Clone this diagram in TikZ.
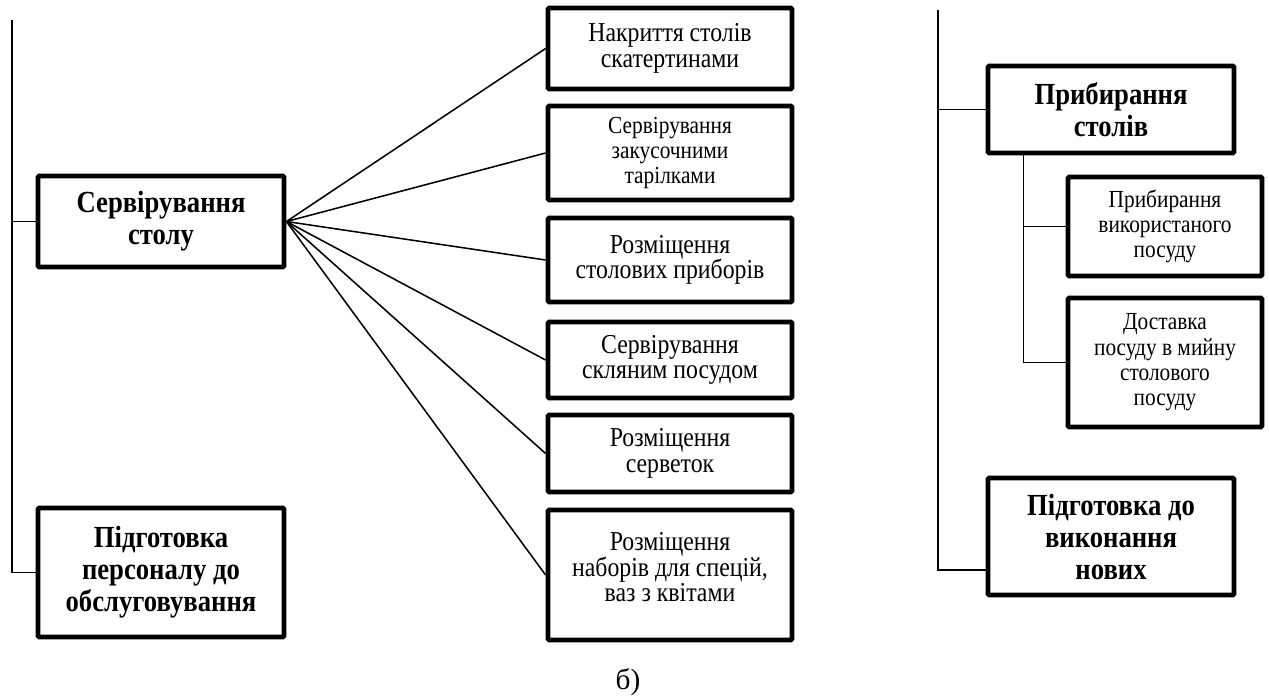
\documentclass[tikz,border=0pt]{standalone}
\usepackage{fontspec}
\setmainfont{Liberation Serif}[FakeStretch=0.87]
\newfontfamily\capfont{Liberation Serif}
\begin{document}
\begin{tikzpicture}[x=0.75pt,y=-0.75pt,
  box/.style={draw, line width=3.6pt, rounded corners=1pt, align=center, inner sep=2pt},
  wh/.style 2 args={minimum width=#1*0.75pt, minimum height=#2*0.75pt},
  head/.style={box, font=\fontsize{23}{24}\selectfont\bfseries},
  item/.style={box, font=\fontsize{20.5}{19}\selectfont},
  small/.style={box, font=\fontsize{18.4}{19}\selectfont},
  link/.style={line width=1.15pt}]
\useasboundingbox (0,0) rectangle (1269,697);

% left column
\node[head, wh={246}{91}]  (serv)  at (161,221.5) {Сервірування\\столу};
\node[head, wh={246}{129}] (staff) at (161,572.5) {Підготовка\\персоналу до\\обслуговування};

% table setting steps
\node[item,  wh={244}{81}]  (m1) at (670,48.5)  {Накриття столів\\скатертинами};
\node[small, wh={244}{94}]  (m2) at (670,153)   {Сервірування\\закусочними\\тарілками};
\node[item,  wh={244}{84}]  (m3) at (670,260)   {Розміщення\\столових приборів};
\node[item,  wh={244}{76}]  (m4) at (670,360)   {Сервірування\\скляним посудом};
\node[item,  wh={244}{77}]  (m5) at (670,453.5) {Розміщення\\серветок};
\node[item,  wh={244}{130}] (m6) at (670,575)   {Розміщення\\наборів для спецій,\\ваз з квітами\rule[-12pt]{0pt}{12pt}};

% right column
\node[head,  wh={246}{87}]  (clear) at (1111,109.5) {Прибирання\\столів};
\node[small, wh={194}{99}]  (used)  at (1165,226.5) {Прибирання\\використаного\\посуду};
\node[small, wh={194}{129}] (wash)  at (1165,362.5) {Доставка\\посуду в мийну\\столового\\посуду};
\node[head,  wh={246}{117}] (next)  at (1111,536.5) {Підготовка до\\виконання\\нових};

% left trunk
\coordinate (ltop) at (12,20);
\draw[link] (ltop) |- (staff.west);
\draw[link] (ltop |- serv.west) -- (serv.west);

% fan of table setting steps
\foreach \m in {m1,m2,m3,m4,m5,m6}
  \draw[link] (serv.east) -- (\m.west);

% right trunk
\coordinate (rtop) at (938,10);
\draw[link] (rtop) |- ([yshift=-25pt]next.west);
\draw[link] (rtop |- clear.west) -- (clear.west);

% clearing sub-branch
\coordinate (rsub) at ([xshift=28.5pt]clear.south west);
\draw[link] (rsub) |- (wash.west);
\draw[link] (rsub |- used.west) -- (used.west);

% caption
\node[font=\capfont\fontsize{22}{24}\selectfont] (cap) at (628,682) {б)};
\end{tikzpicture}
\end{document}
